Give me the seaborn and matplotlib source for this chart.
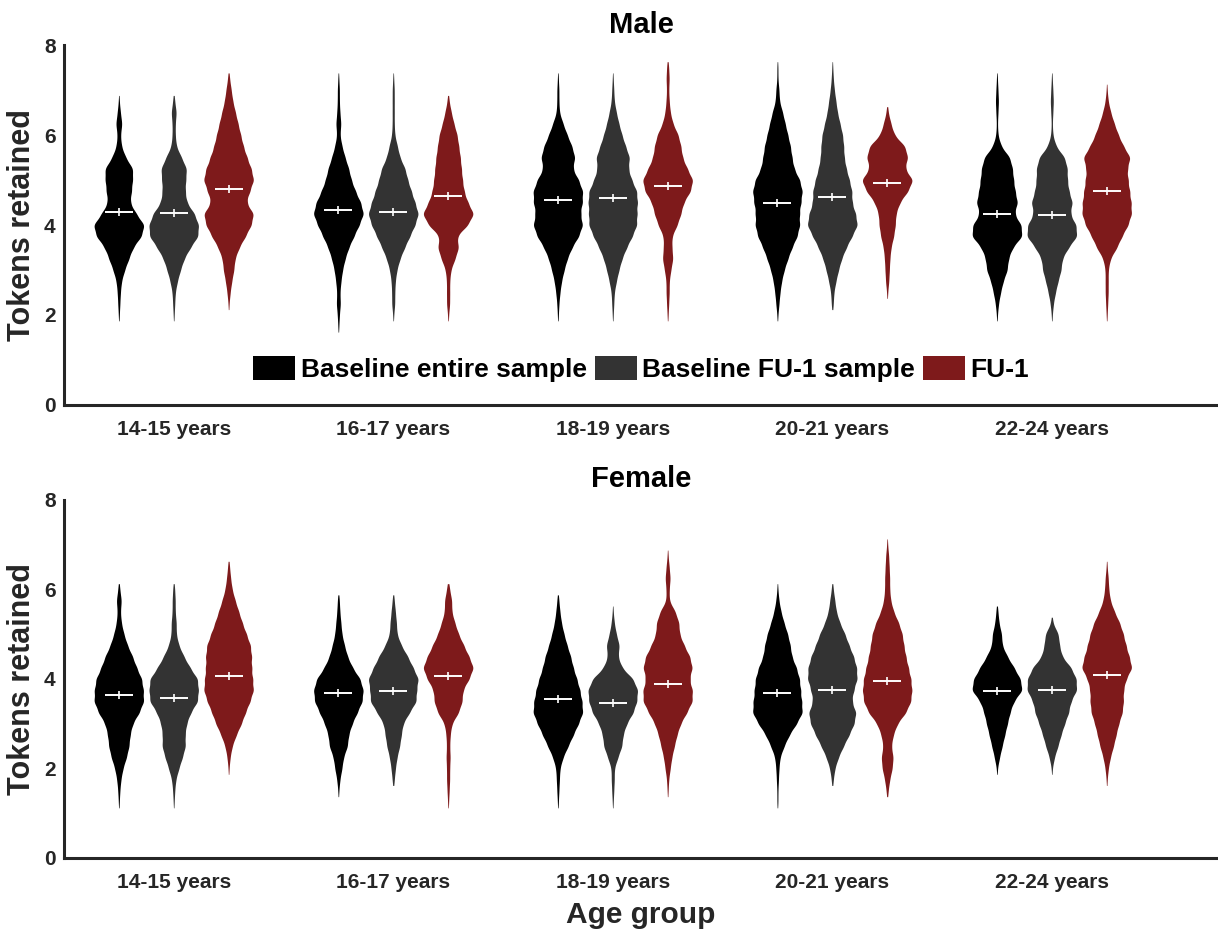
import numpy as np
import pandas as pd
import matplotlib
matplotlib.use("Agg")
import matplotlib.pyplot as plt
import seaborn as sns
from matplotlib.patches import Patch

sns.set_style("white")
plt.rcParams["font.family"] = ["Liberation Sans", "DejaVu Sans"]
plt.rcParams["font.weight"] = "bold"

AGE_GROUPS = ["14-15 years", "16-17 years", "18-19 years", "20-21 years", "22-24 years"]
GROUPS = ["Baseline entire sample", "Baseline FU-1 sample", "FU-1"]
COLORS = ["#000000", "#333333", "#7E1A1B"]

# token levels (support of the distributions) and frequency at each level
LEVELS = [1.25, 1.5, 1.75, 2.0, 2.25, 2.5, 2.75, 3.0, 3.25, 3.5, 3.75, 4.0, 4.25,
          4.5, 4.75, 5.0, 5.25, 5.5, 5.75, 6.0, 6.25, 6.5, 6.75, 7.0, 7.25, 7.5]

MALE_BASE_ALL = [
    [0,0,0,1,2,3,5,11,19,27,43,49,33,21,24,26,27,13,5,3,6,3,1,0,0,0],
    [0,0,1,2,4,3,5,8,13,20,30,40,49,43,33,25,20,13,7,3,5,3,2,2,1,0],
    [0,0,0,1,2,4,7,12,18,27,40,48,43,47,48,40,28,33,27,18,10,3,2,2,1,0],
    [0,0,0,1,3,5,8,13,20,28,38,43,42,45,48,43,32,28,25,20,15,10,4,3,1,1],
    [0,0,0,1,3,7,12,20,22,30,49,47,33,40,35,32,30,25,8,2,1,2,3,2,1,0],
]
MALE_BASE_FU = [
    [0,0,0,1,2,3,7,13,20,32,47,48,40,25,22,23,25,15,5,3,3,5,2,0,0,0],
    [0,0,0,1,3,3,4,7,13,22,32,42,49,42,35,28,23,13,8,3,2,2,2,2,1,0],
    [0,0,0,1,2,3,7,12,18,27,38,47,47,48,47,37,30,33,25,18,12,7,3,2,1,0],
    [0,0,0,0,2,3,7,12,18,27,38,49,45,38,38,33,27,23,22,20,15,10,7,4,2,1],
    [0,0,0,1,3,7,12,18,20,32,49,47,35,40,33,30,30,25,8,2,1,2,3,2,1,0],
]
MALE_FU1 = [
    [0,0,0,0,1,3,6,10,12,20,32,43,48,33,40,48,43,35,28,23,18,13,8,5,2,0],
    [0,0,0,1,3,3,3,5,13,20,16,37,49,37,30,27,25,23,20,17,11,6,2,0,0,0],
    [0,0,0,1,2,3,3,6,10,8,8,18,25,30,43,48,37,28,25,20,10,5,3,2,3,2],
    [0,0,0,0,0,1,3,4,5,7,12,15,16,23,38,48,32,38,33,13,7,2,0,0,0,0],
    [0,0,0,1,2,3,3,3,7,20,30,42,49,48,45,42,40,47,33,23,15,8,3,1,0,0],
]
FEMALE_BASE_ALL = [
    [1,2,4,8,15,20,22,27,40,49,48,45,35,27,17,10,5,3,5,2,0,0,0,0,0,0],
    [0,1,3,7,10,18,20,27,37,47,49,43,28,18,12,7,5,3,2,0,0,0,0,0,0,0],
    [1,2,3,4,10,20,30,40,49,47,43,37,30,25,18,12,7,4,2,0,0,0,0,0,0,0],
    [1,1,2,3,5,13,23,37,49,47,45,43,37,28,25,20,13,7,3,1,0,0,0,0,0,0],
    [0,0,0,1,5,10,15,20,25,32,49,45,33,20,10,9,4,2,0,0,0,0,0,0,0,0],
]
FEMALE_BASE_FU = [
    [1,2,4,10,17,23,22,25,33,47,48,47,32,20,10,5,5,3,3,2,0,0,0,0,0,0],
    [0,0,2,4,7,12,15,18,30,43,43,47,37,27,15,7,6,4,2,0,0,0,0,0,0,0],
    [1,2,3,3,10,18,20,27,40,47,49,40,18,10,13,7,3,1,0,0,0,0,0,0,0,0],
    [0,0,2,5,12,22,33,43,47,38,42,49,48,42,33,25,15,8,5,2,0,0,0,0,0,0],
    [0,0,0,1,5,12,18,25,33,37,49,48,38,20,15,13,2,0,0,0,0,0,0,0,0,0],
]
FEMALE_FU1 = [
    [0,0,0,1,3,7,15,25,33,42,49,47,45,45,43,35,27,20,13,7,4,2,0,0,0,0],
    [1,2,3,3,4,3,4,7,20,27,28,40,49,40,30,20,13,7,7,3,0,0,0,0,0,0],
    [0,1,2,5,8,13,18,25,37,48,48,42,48,43,32,23,22,15,3,3,5,3,1,0,0,0],
    [0,2,5,10,12,8,12,20,37,47,49,47,42,37,33,30,23,13,7,5,5,4,3,1,0,0],
    [0,0,1,3,7,13,18,23,30,32,32,37,49,43,37,32,25,15,7,4,3,1,0,0,0,0],
]

MALE_MEAN_BASE_ALL = [4.29, 4.33, 4.56, 4.48, 4.24]
MALE_MEAN_BASE_FU = [4.26, 4.30, 4.59, 4.63, 4.22]
MALE_MEAN_FU1 = [4.79, 4.65, 4.87, 4.94, 4.76]
FEMALE_MEAN_BASE_ALL = [3.64, 3.68, 3.55, 3.68, 3.73]
FEMALE_MEAN_BASE_FU = [3.57, 3.74, 3.47, 3.75, 3.75]
FEMALE_MEAN_FU1 = [4.07, 4.07, 3.89, 3.96, 4.09]

BW = 0.13
AXC = "#262626"


def build(per_group):
    frames = []
    for g, by_age in zip(GROUPS, per_group):
        for age, counts in zip(AGE_GROUPS, by_age):
            vals = np.repeat(LEVELS, counts)
            frames.append(pd.DataFrame({"age": age, "group": g, "tokens": vals}))
    return pd.concat(frames, ignore_index=True)


def bw_rule(k):
    return BW / np.std(k.dataset, ddof=1)


fig = plt.figure(figsize=(12.18, 9.34), dpi=100)
ax1 = fig.add_axes([0.0525, 0.5664, 0.9475, 0.3854])
ax2 = fig.add_axes([0.0525, 0.0814, 0.9475, 0.3833])

WIDTH = 0.75
offsets = (np.arange(len(GROUPS)) - 1) * WIDTH / len(GROUPS)

panels = [
    (ax1, build([MALE_BASE_ALL, MALE_BASE_FU, MALE_FU1]),
     [MALE_MEAN_BASE_ALL, MALE_MEAN_BASE_FU, MALE_MEAN_FU1], "Male"),
    (ax2, build([FEMALE_BASE_ALL, FEMALE_BASE_FU, FEMALE_FU1]),
     [FEMALE_MEAN_BASE_ALL, FEMALE_MEAN_BASE_FU, FEMALE_MEAN_FU1], "Female"),
]

for ax, df, means, title in panels:
    sns.violinplot(data=df, x="age", y="tokens", hue="group", order=AGE_GROUPS,
                   hue_order=GROUPS, palette=COLORS, saturation=1, width=WIDTH,
                   gap=0.1, inner=None, linewidth=0, density_norm="width",
                   bw_method=bw_rule, cut=1, gridsize=300, legend=False, ax=ax)
    for gi, m in enumerate(means):
        xs = np.arange(len(AGE_GROUPS)) + offsets[gi]
        ax.plot(xs, m, ls="none", marker="_", ms=20, mew=1.4, color="white", zorder=5)
        ax.plot(xs, m, ls="none", marker="|", ms=6, mew=1.2, color="white", zorder=5)
    ax.set_xlim(-0.5, 4.757)
    ax.set_ylim(0, 8)
    ax.set_yticks([0, 2, 4, 6, 8])
    ax.set_title(title, fontsize=21, fontweight="bold", pad=9, color="black")
    ax.set_ylabel("Tokens retained", fontsize=22, fontweight="bold", color=AXC, labelpad=5)
    ax.set_xlabel("")
    for s in ["top", "right"]:
        ax.spines[s].set_visible(False)
    for s in ["left", "bottom"]:
        ax.spines[s].set_linewidth(2.2)
        ax.spines[s].set_color(AXC)
    ax.tick_params(axis="both", direction="in", length=7, width=2.2, color=AXC,
                   labelcolor=AXC, labelsize=15)
    ax.tick_params(axis="x", pad=11)
    ax.tick_params(axis="y", pad=6)
    for lab in ax.get_xticklabels() + ax.get_yticklabels():
        lab.set_fontweight("bold")

ax2.set_xlabel("Age group", fontsize=21.5, fontweight="bold", color=AXC, labelpad=6)

handles = [Patch(facecolor=c, edgecolor="none", label=g) for c, g in zip(COLORS, GROUPS)]
leg = ax1.legend(handles=handles, loc="center", bbox_to_anchor=(0.5, 0.1), ncol=3,
                 frameon=False, prop={"size": 19, "weight": "bold"}, handlelength=1.6,
                 handleheight=1.05, handletextpad=0.2, columnspacing=0.3, borderpad=0)
for t in leg.get_texts():
    t.set_color("black")

fig.savefig("out.png", dpi=100)
